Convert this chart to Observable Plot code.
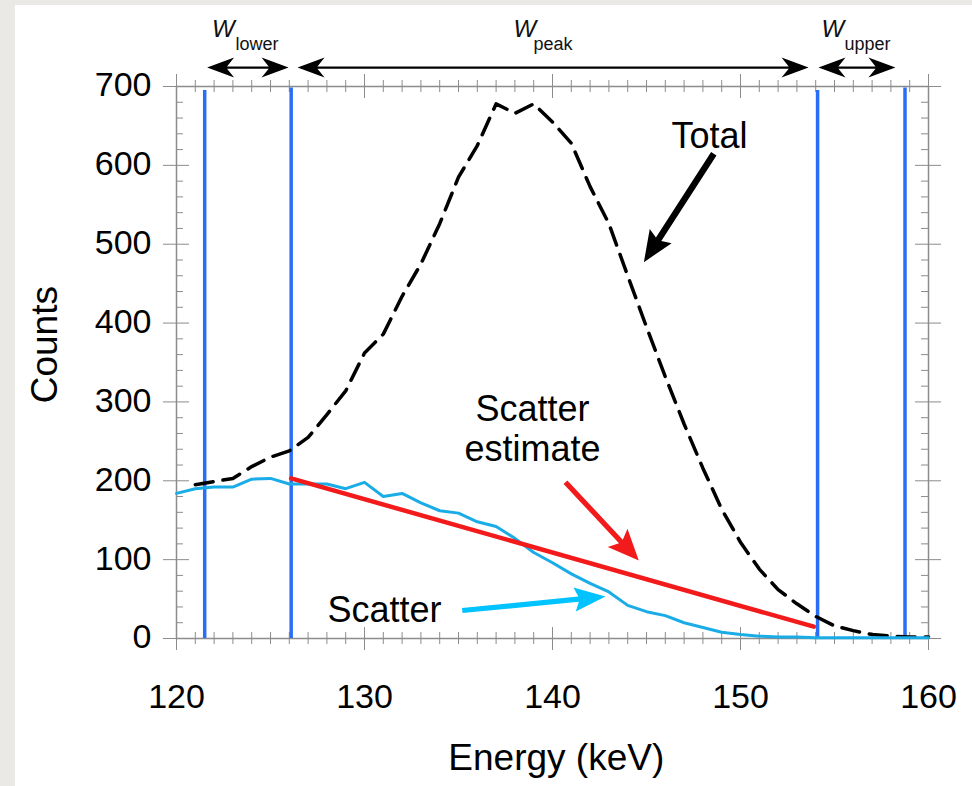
<!DOCTYPE html>
<html><head><meta charset="utf-8">
<script src="https://cdn.jsdelivr.net/npm/d3@7"></script>
<script src="https://cdn.jsdelivr.net/npm/@observablehq/plot@0.6"></script>
<style>
html,body{margin:0;padding:0;background:#ebe9e6;width:972px;height:786px;overflow:hidden;}
#panel{position:absolute;left:15px;top:5px;width:957px;height:781px;background:#fff;}
#chart{position:absolute;left:15px;top:5px;width:957px;height:781px;}
</style></head><body><div id="panel"></div><div id="chart"></div>
<script>
// ---------- data ----------
const totalEnergy = [121,122,123,124,125,126,127,128,129,130,131,132,133,134,135,136,137,138,139,140,141,142,143,144,145,146,147,148,149,150,151,152,153,154,155,156,157,158,159,160];
const totalCounts = [195,199,203,218,230,238,255,284,314,362,386,434,475,526,585,625,678,666,678,655,628,573,526,460,395,332,272,216,164,122,88,62,44,28,16,10,5,3,2,2];
const scatterEnergy = [120,121,122,123,124,125,126,127,128,129,130,131,132,133,134,135,136,137,138,139,140,141,142,143,144,145,146,147,148,149,150,151,152,153,154,155,156,157,158,159,160];
const scatterCounts = [184,190,192,192,202,203,196,196,196,190,198,180,184,172,162,159,148,142,127,109,96,82,70,59,42,34,29,20,14,8,5,3,2,2,1,1,1,1,1,1,1];
const estimateEnergy = [126.1, 153.9];
const estimateCounts = [203, 15];
const windowEnergy = [121.5, 126.1, 154.1, 158.75];
const windowTop = [695, 698, 695, 698];
const xTicks = [120, 130, 140, 150, 160];
const yTicks = [0, 100, 200, 300, 400, 500, 600, 700];
const xTickLabels = ["120", "130", "140", "150", "160"];
const yTickLabels = ["0", "100", "200", "300", "400", "500", "600", "700"];
const windowNames = ["lower", "peak", "upper"];
const windowArrowFrom = [121.63, 126.44, 154.15];
const windowArrowTo = [125.96, 153.62, 158.24];
const windowLabelW = [121.89, 137.93, 154.31];
const windowLabelSub = [123.14, 138.99, 155.53];
const windowArrowLevel = 724;
const windowWLevel = 772;
const windowSubLevel = 753;
// annotation arrows (tail -> tip, data units)
const totalArrow = {x1: 148.58, y1: 614.7, x2: 144.86, y2: 477.2};
const estimateArrow = {x1: 140.69, y1: 198.2, x2: 144.59, y2: 98.9};
const scatterArrow = {x1: 135.2, y1: 35.5, x2: 142.82, y2: 53.3};
const annotationTexts = [
  {text: "Total", x: 148.35, y: 637.2},
  {text: "Scatter", x: 138.94, y: 291.0},
  {text: "estimate", x: 138.94, y: 240.3},
  {text: "Scatter", x: 131.06, y: 35.3}
];

// ---------- layout ----------
const W = 957, H = 781, mL = 161, mR = 44, mT = 81, mB = 148;
const xDom = [120, 160], yDom = [0, 700];
const kx = (W - mL - mR) / (xDom[1] - xDom[0]);
const ky = (H - mT - mB) / (yDom[1] - yDom[0]);
const FONT = "Liberation Sans, Arial, Helvetica, sans-serif";
const GREY = "#8c8c8c";
const BLUE = "#2a6ef5", RED = "#f21a1a", CYAN = "#1aace6", CYAN2 = "#00c3ff";

const total = totalEnergy.map((e, i) => ({e, c: totalCounts[i]}));
const scatter = scatterEnergy.map((e, i) => ({e, c: scatterCounts[i]}));
const estimate = estimateEnergy.map((e, i) => ({e, c: estimateCounts[i]}));
const windows = windowEnergy.map((e, i) => ({e, top: windowTop[i]}));
const xMinor = d3.range(xDom[0], xDom[1] + 1, 1).filter(d => d % 10 !== 0);
const yMinor = d3.range(yDom[0], yDom[1] + 1, 20).filter(d => d % 100 !== 0);

function arrowShape(h, w, n, s, dbl) {
  const nb = n * (1 - s / w);
  return {
    draw(ctx, l) {
      const b = l - h;
      if (!dbl) {
        ctx.moveTo(-s, 0);
        ctx.lineTo(-s, -(b + nb));
        ctx.lineTo(-w, -b);
        ctx.lineTo(0, -l);
        ctx.lineTo(w, -b);
        ctx.lineTo(s, -(b + nb));
        ctx.lineTo(s, 0);
        ctx.closePath();
      } else {
        ctx.moveTo(0, 0);
        ctx.lineTo(w, -h);
        ctx.lineTo(s, -(h - nb));
        ctx.lineTo(s, -(b + nb));
        ctx.lineTo(w, -b);
        ctx.lineTo(0, -l);
        ctx.lineTo(-w, -b);
        ctx.lineTo(-s, -(b + nb));
        ctx.lineTo(-s, -(h - nb));
        ctx.lineTo(-w, -h);
        ctx.closePath();
      }
    }
  };
}
function arrowMark(a, color, shape) {
  const dx = (a.x2 - a.x1) * kx, dy = (a.y2 - a.y1) * ky;
  const len = Math.hypot(dx, dy);
  const rot = Math.atan2(dx, dy) * 180 / Math.PI;
  return Plot.vector([a], {x: "x1", y: "y1", length: len, rotate: rot, anchor: "start",
    shape, fill: color, stroke: "none"});
}

const marks = [
  Plot.frame({stroke: GREY, strokeWidth: 1.5}),
  // major x ticks (bottom, top)
  Plot.ruleX(xTicks, {x: d => d, y1: -12 / ky, y2: 11 / ky, stroke: GREY, strokeWidth: 1}),
  Plot.ruleX(xTicks, {x: d => d, y1: yDom[1] - 12 / ky, y2: yDom[1] + 12 / ky, stroke: GREY, strokeWidth: 1}),
  // minor x ticks
  Plot.ruleX(xMinor, {x: d => d, y1: -6 / ky, y2: 6 / ky, stroke: GREY, strokeWidth: 1}),
  Plot.ruleX(xMinor, {x: d => d, y1: yDom[1] - 6 / ky, y2: yDom[1] + 6 / ky, stroke: GREY, strokeWidth: 1}),
  // major y ticks (left, right)
  Plot.ruleY(yTicks, {y: d => d, x1: xDom[0] - 13 / kx, x2: xDom[0] + 13 / kx, stroke: GREY, strokeWidth: 1}),
  Plot.ruleY(yTicks, {y: d => d, x1: xDom[1] - 13 / kx, x2: xDom[1] + 13 / kx, stroke: GREY, strokeWidth: 1}),
  // minor y ticks (inside)
  Plot.ruleY(yMinor, {y: d => d, x1: xDom[0], x2: xDom[0] + 7 / kx, stroke: GREY, strokeWidth: 1}),
  Plot.ruleY(yMinor, {y: d => d, x1: xDom[1] - 7 / kx, x2: xDom[1], stroke: GREY, strokeWidth: 1}),
  // tick labels
  Plot.text(xTicks, {x: d => d, y: yDom[0], dy: 59, text: (d, i) => xTickLabels[i], fontSize: 34, fontFamily: FONT, fill: "#000"}),
  Plot.text(yTicks, {x: xDom[0], y: d => d, dx: -25, dy: -1, text: (d, i) => yTickLabels[i], textAnchor: "end", fontSize: 34, fontFamily: FONT, fill: "#000"}),
  // axis titles
  Plot.text(["Energy (keV)"], {x: 140.2, y: yDom[0], dy: 120, text: d => d, fontSize: 37, fontFamily: FONT, fill: "#000"}),
  Plot.text(["Counts"], {x: xDom[0], y: 372.6, dx: -131, rotate: -90, text: d => d, fontSize: 37, fontFamily: FONT, fill: "#000"}),
  // window boundaries
  Plot.ruleX(windows, {x: "e", y1: 0, y2: "top", stroke: BLUE, strokeWidth: 3.5}),
  // curves
  Plot.line(total, {x: "e", y: "c", stroke: "#000", strokeWidth: 3.5, strokeDasharray: "18,10"}),
  Plot.line(scatter, {x: "e", y: "c", stroke: CYAN, strokeWidth: 3}),
  Plot.line(estimate, {x: "e", y: "c", stroke: RED, strokeWidth: 4.5}),
  // annotation arrows
  arrowMark(totalArrow, "#000", arrowShape(31, 13, 5, 3.2, false)),
  arrowMark(estimateArrow, RED, arrowShape(31, 13.5, 6, 2.6, false)),
  arrowMark(scatterArrow, CYAN2, arrowShape(31, 12, 5, 2.6, false)),
  // window arrows
  ...windowNames.map((nm, i) => arrowMark({x1: windowArrowFrom[i], y1: windowArrowLevel, x2: windowArrowTo[i], y2: windowArrowLevel}, "#000", arrowShape(27, 10, 8, 1.1, true))),
  Plot.text(windowNames, {x: (d, i) => windowLabelW[i], y: windowWLevel, text: () => "W", textAnchor: "start", fontSize: 24, fontStyle: "italic", fontFamily: FONT, fill: "#111"}),
  Plot.text(windowNames, {x: (d, i) => windowLabelSub[i], y: windowSubLevel, text: d => d, textAnchor: "start", fontSize: 18, fontFamily: FONT, fill: "#111"}),
  // annotation texts
  Plot.text(annotationTexts, {x: "x", y: "y", text: "text", fontSize: 36, fontFamily: FONT, fill: "#000"})
];

const chart = Plot.plot({
  width: W, height: H,
  marginLeft: mL, marginRight: mR, marginTop: mT, marginBottom: mB,
  x: {domain: xDom, axis: null},
  y: {domain: yDom, axis: null},
  style: {background: "transparent", fontFamily: FONT},
  marks
});
document.getElementById("chart").appendChild(chart);
</script>
</body></html>
